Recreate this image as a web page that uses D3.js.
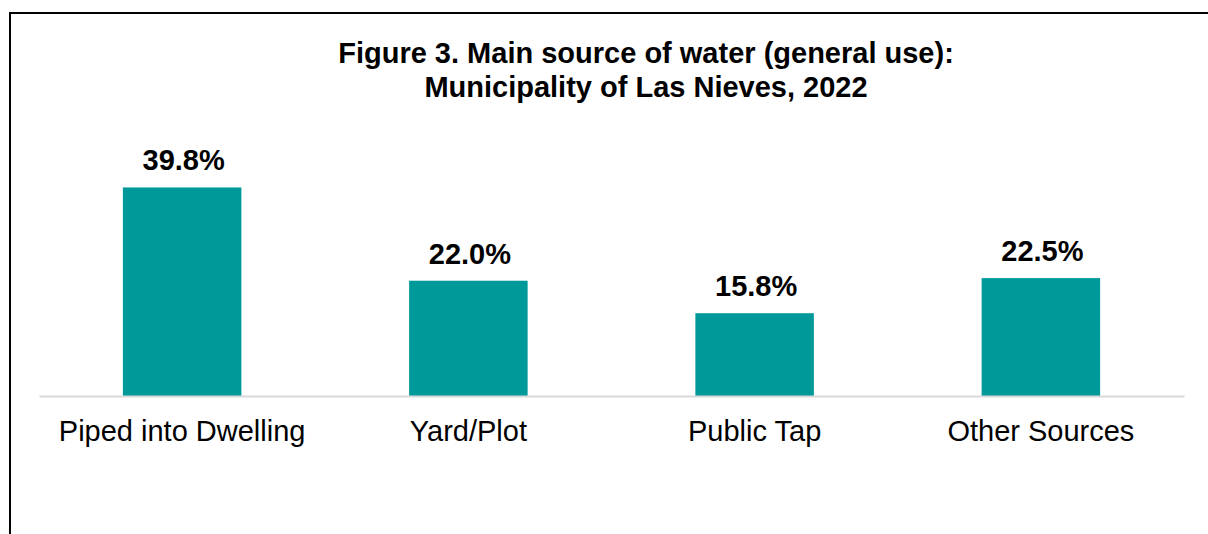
<!DOCTYPE html>
<html>
<head>
<meta charset="utf-8">
<script src="https://cdn.jsdelivr.net/npm/d3@7"></script>
<style>
  body { margin: 0; background: #fff; }
  svg { display: block; font-family: "Liberation Sans", Arial, sans-serif; }
</style>
</head>
<body>
<script>
var categories = ["Piped into Dwelling", "Yard/Plot", "Public Tap", "Other Sources"];
var values = [39.8, 22.0, 15.8, 22.5];
var titleLines = ["Figure 3. Main source of water (general use):", "Municipality of Las Nieves, 2022"];

const width = 1208;
const height = 534;
const baseY = 396;
const left = 39;
const right = 1184;

var svg = d3.select('body')
    .append('svg')
    .attr('width', width)
    .attr('height', height);

// frame (only top and left edges are visible in the crop)
svg.append('path')
    .attr('d', `M10,${height} L10,13 L${width},13`)
    .attr('fill', 'none')
    .attr('stroke', '#000')
    .attr('stroke-width', 2);

// title
svg.append('text')
    .attr('x', 646)
    .attr('y', 63)
    .attr('text-anchor', 'middle')
    .attr('font-size', 29)
    .attr('font-weight', 'bold')
    .selectAll('tspan')
    .data(titleLines)
    .enter()
    .append('tspan')
        .attr('x', 646)
        .attr('dy', (d, i) => i ? 34 : 0)
        .text(d => d);

const xScale = d3.scaleBand()
    .domain(categories)
    .range([left, right])
    .paddingInner(0.586)
    .paddingOuter(0.293);

const yScale = d3.scaleLinear()
    .domain([0, 40])
    .range([baseY, baseY - 209.6]);

var data = categories.map((c, i) => ({cat: c, val: values[i]}));

// bars
svg.append('g')
    .selectAll('rect')
    .data(data)
    .enter()
    .append('rect')
        .attr('x', d => xScale(d.cat))
        .attr('y', d => yScale(d.val))
        .attr('width', xScale.bandwidth())
        .attr('height', d => baseY - yScale(d.val))
        .attr('fill', '#009999');

// value labels
svg.append('g')
    .selectAll('text')
    .data(data)
    .enter()
    .append('text')
        .attr('x', d => xScale(d.cat) + xScale.bandwidth() / 2 + 1.5)
        .attr('y', d => yScale(d.val) - 17)
        .attr('text-anchor', 'middle')
        .attr('font-size', 29)
        .attr('font-weight', 'bold')
        .text(d => d.val.toFixed(1) + '%');

// x-axis
var xAxis = svg.append('g')
    .attr('transform', `translate(0, ${baseY})`)
    .call(d3.axisBottom(xScale).tickSize(0).tickPadding(24));

xAxis.select('.domain')
    .attr('stroke', '#d9d9d9')
    .attr('stroke-width', 2);

xAxis.selectAll('text')
    .attr('font-size', 29)
    .attr('font-family', '"Liberation Sans", Arial, sans-serif')
    .attr('fill', '#000');
</script>
</body>
</html>
